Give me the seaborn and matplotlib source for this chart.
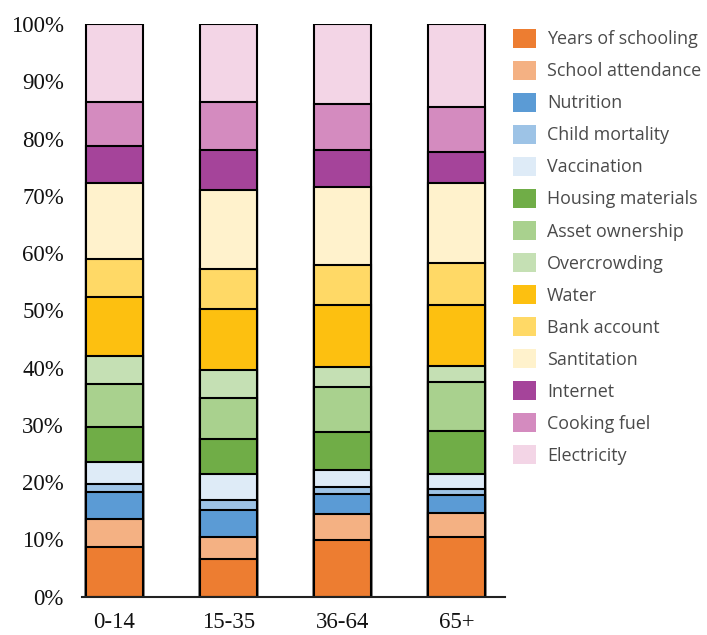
import matplotlib
matplotlib.use("Agg")
import matplotlib.pyplot as plt
import seaborn as sns
import pandas as pd
import numpy as np
from matplotlib.patches import Patch

groups = ["0-14", "15-35", "36-64", "65+"]
indicators = ["Years of schooling", "School attendance", "Nutrition", "Child mortality",
              "Vaccination", "Housing materials", "Asset ownership", "Overcrowding",
              "Water", "Bank account", "Santitation", "Internet", "Cooking fuel", "Electricity"]
colors = ["#ED7D31", "#F4B183", "#5B9BD5", "#9DC3E6", "#DEEBF7", "#70AD47", "#A9D18E",
          "#C5E0B4", "#FDC010", "#FFD966", "#FFF2CC", "#A5449A", "#D48BBF", "#F3D5E6"]

years_of_schooling = [8.7, 6.6, 9.9, 10.4]
school_attendance = [4.9, 3.9, 4.55, 4.2]
nutrition = [4.7, 4.7, 3.55, 3.15]
child_mortality = [1.4, 1.75, 1.15, 1.05]
vaccination = [3.9, 4.4, 2.9, 2.65]
housing_materials = [6.1, 6.1, 6.7, 7.5]
asset_ownership = [7.4, 7.2, 7.85, 8.55]
overcrowding = [4.9, 4.9, 3.5, 2.8]
water = [10.3, 10.65, 10.8, 10.6]
bank_account = [6.6, 7.1, 7.1, 7.3]
sanitation = [13.3, 13.7, 13.5, 14.1]
internet = [6.5, 7.0, 6.45, 5.3]
cooking_fuel = [7.7, 8.3, 8.1, 7.85]
electricity = [13.6, 13.7, 13.95, 14.55]

series = [years_of_schooling, school_attendance, nutrition, child_mortality, vaccination,
          housing_materials, asset_ownership, overcrowding, water, bank_account,
          sanitation, internet, cooking_fuel, electricity]

rows = []
for ind, vals in zip(indicators, series):
    for g, v in zip(groups, vals):
        rows.append({"group": g, "indicator": ind, "value": v})
df = pd.DataFrame(rows)
df["indicator"] = pd.Categorical(df["indicator"], categories=indicators, ordered=True)
df = df.sort_values(["group", "indicator"])
df["cum"] = df.groupby("group")["value"].cumsum()

fig = plt.figure(figsize=(7.07, 6.35), dpi=100)
ax = fig.add_axes([82/707, (635-596.7)/635, (505-82)/707, (596.7-24)/635])

for ind, col in reversed(list(zip(indicators, colors))):
    sub = df[df["indicator"] == ind]
    sns.barplot(data=sub, x="group", y="cum", order=groups, color=col, saturation=1,
                width=0.5, edgecolor="black", linewidth=1.5, errorbar=None, ax=ax)

ax.set_xlim(-0.283, 3.421)
ax.set_ylim(0, 100)
ax.set_yticks(np.arange(0, 101, 10))
ax.set_yticklabels([f"{t}%" for t in range(0, 101, 10)])
ax.set_xlabel("")
ax.set_ylabel("")
for s in ["top", "right", "left"]:
    ax.spines[s].set_visible(False)
ax.spines["bottom"].set_linewidth(1.5)
ax.spines["bottom"].set_color("#222222")
ax.tick_params(axis="y", length=0, pad=13)
ax.tick_params(axis="x", length=0, pad=11)
for lab in ax.get_yticklabels() + ax.get_xticklabels():
    lab.set_fontfamily("Liberation Serif")
    lab.set_fontsize(16.5)
    lab.set_color("#111111")

handles = [Patch(facecolor=c, edgecolor="none") for c in colors]
fig.legend(handles, indicators, loc="upper left", bbox_to_anchor=(513.3/707, 1 - 29/635),
           frameon=False, borderpad=0, borderaxespad=0, handlelength=1.27, handleheight=1.23,
           handletextpad=0.6, labelspacing=0.705,
           prop={"family": "Open Sans", "size": 12.9}, labelcolor="#4a4a4a")

fig.savefig("out.png", dpi=100)
